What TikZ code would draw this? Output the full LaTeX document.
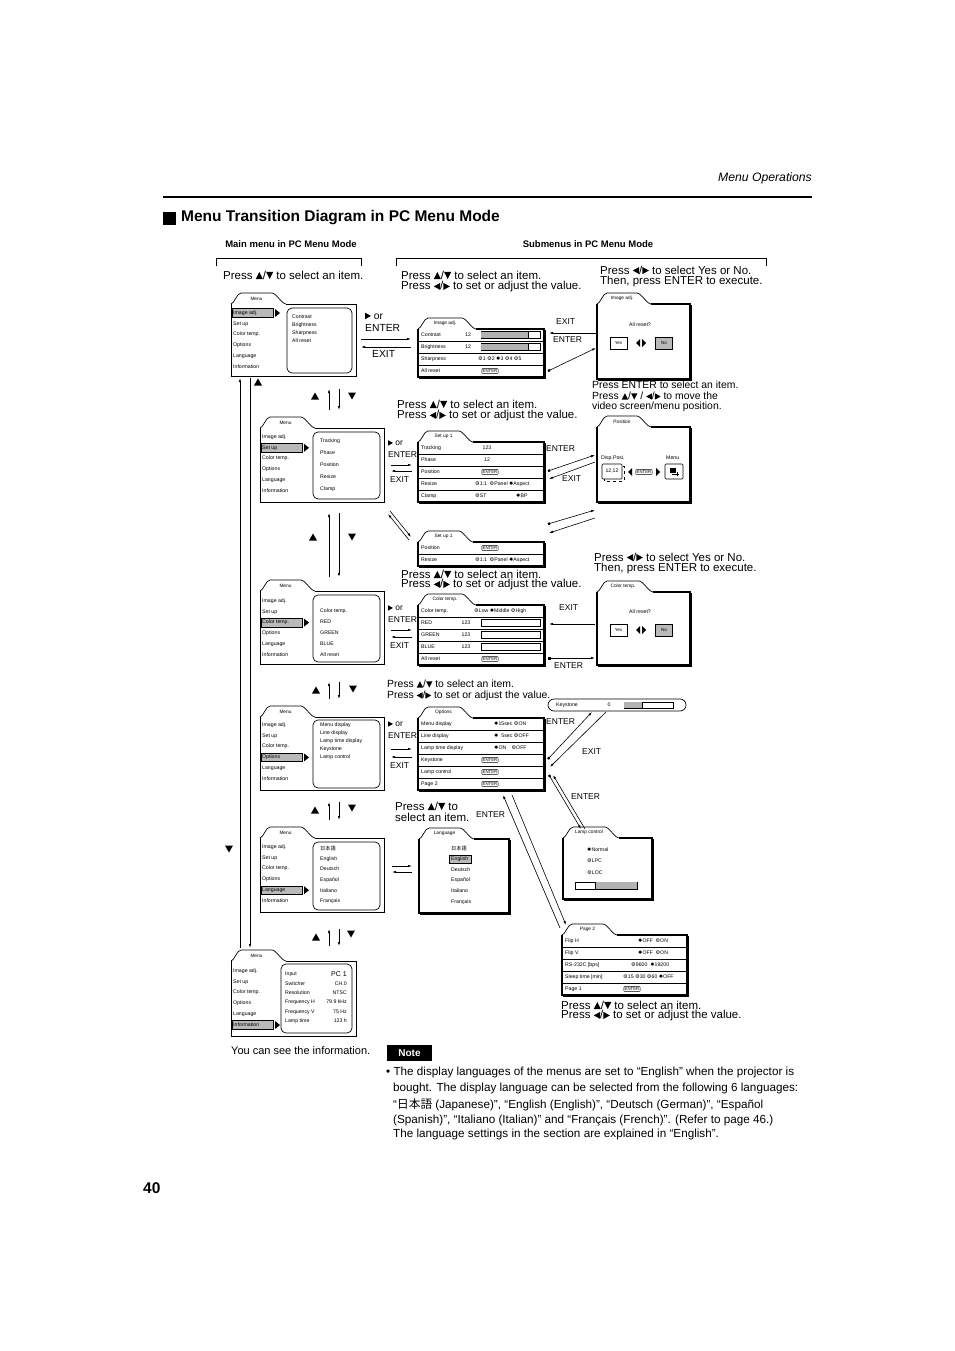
\documentclass[tikz,border=0pt]{standalone}
\usepackage{fontspec}
\setmainfont{Liberation Sans}
\newfontfamily\cjk{Noto Sans CJK JP}
\newfontfamily\djv{DejaVu Sans}
\usetikzlibrary{arrows.meta}
\newcommand\rOn{{\djv ✹}}
\newcommand\rOff{{\djv ⚙}}
\newcommand\tU{\tikz[baseline=0pt]\fill (0pt,0pt)--(0.62em,0pt)--(0.31em,0.62em)--cycle;}
\newcommand\tD{\tikz[baseline=0pt]\fill (0pt,0.62em)--(0.62em,0.62em)--(0.31em,0pt)--cycle;}
\newcommand\tL{\tikz[baseline=0pt]\fill (0.56em,0pt)--(0.56em,0.62em)--(0pt,0.31em)--cycle;}
\newcommand\tR{\tikz[baseline=0pt]\fill (0pt,0pt)--(0pt,0.62em)--(0.56em,0.31em)--cycle;}
\newcommand\upT[2]{\fill (#1-4,#2+3.5) -- (#1+4,#2+3.5) -- (#1,#2-3.5) -- cycle;}
\newcommand\dnT[2]{\fill (#1-4,#2-3.5) -- (#1+4,#2-3.5) -- (#1,#2+3.5) -- cycle;}
% main-menu window: name x0 y0 x1 y1 label tabwidth
\newcommand\win[7]{%
 \draw[frame] (#2+#7,#3) -- (#4,#3) -- (#4,#5) -- (#2,#5) -- (#2,#3);
 \draw[frame] (#2,#3) .. controls (#2+3,#3) and (#2+6,#3-11) .. (#2+10,#3-11) -- (#2+#7-14,#3-11) .. controls (#2+#7-10,#3-11) and (#2+#7-4,#3) .. (#2+#7,#3);
 \draw[shad] (#2+1,#5+0.8) -- (#4+0.8,#5+0.8) -- (#4+0.8,#3+1);
 \node[tabl] (#1) at (#2+#7/2-2,#3-5.5) {#6};
}
\newcommand\swin[7]{%
 \draw[sframe] (#2+#7,#3) -- (#4,#3) -- (#4,#5) -- (#2,#5) -- (#2,#3);
 \draw[frame] (#2,#3) .. controls (#2+3,#3) and (#2+6,#3-11) .. (#2+10,#3-11) -- (#2+#7-14,#3-11) .. controls (#2+#7-10,#3-11) and (#2+#7-4,#3) .. (#2+#7,#3);
 \draw[shad] (#2+1,#5+0.9) -- (#4+0.9,#5+0.9) -- (#4+0.9,#3+1);
 \node[tabl] (#1) at (#2+#7/2-2,#3-5.5) {#6};
}
% main menu list: prefix x yfirst selected
\newcommand\mlist[4]{%
 \foreach \t [count=\i] in {Image adj.,Set up,Color temp.,Options,Language,Information}{
   \ifnum\i=#4
     \draw[fill=gray!55, line width=0.5pt] (#2-1,#3+\i*10.8-10.8-4.3) rectangle (#2+40,#3+\i*10.8-10.8+4.3);
     \fill (#2+42,#3+\i*10.8-10.8-4) -- (#2+47,#3+\i*10.8-10.8) -- (#2+42,#3+\i*10.8-10.8+4) -- cycle;
   \fi
   \node[sm] (#1\i) at (#2,#3+\i*10.8-10.8) {\t};
 }
}
% row separators: x0 x1 ytop h n
\newcommand\rows[5]{\foreach \k in {1,...,#5}{\draw[rowl] (#1,#3+\k*#4) -- (#2,#3+\k*#4);}}
\newcommand\gbar[5]{\draw[line width=0.5pt] (#1,#2) rectangle (#3,#4); \fill[gray!60] (#1+0.3,#2+0.3) rectangle (#5,#4-0.3); \draw[line width=0.5pt] (#5,#2) -- (#5,#4);}
\tikzset{
 frame/.style={line width=0.7pt},
 sframe/.style={line width=1.1pt},
 shad/.style={line width=1.3pt},
 rowl/.style={line width=0.8pt},
 sm/.style={font=\fontsize{5.2}{6}\selectfont, inner sep=0pt, anchor=west},
 smc/.style={font=\fontsize{5.2}{6}\selectfont, inner sep=0pt},
 tabl/.style={font=\fontsize{4.8}{5}\selectfont, inner sep=0pt},
 ins/.style={font=\fontsize{11.5}{12}\selectfont, inner sep=0pt, anchor=west},
 inss/.style={font=\fontsize{10.4}{11}\selectfont, inner sep=0pt, anchor=west},
 lbl/.style={font=\fontsize{10.3}{11}\selectfont, inner sep=0pt, anchor=west},
 lbls/.style={font=\fontsize{8.5}{9}\selectfont, inner sep=0pt, anchor=west},
 ar/.style={line width=0.6pt, -{Latex[length=4pt,width=2.4pt]}},
 sqar/.style={line width=0.6pt, {Square[length=2.2pt,width=2.2pt]}-{Latex[length=4pt,width=2.4pt]}},
 entb/.style={draw, line width=0.4pt, rounded corners=0.6pt, inner xsep=0.8pt, inner ysep=0.9pt, font=\fontsize{4.3}{4.5}\selectfont},
 btn/.style={draw, line width=0.5pt, minimum width=17pt, minimum height=12pt, font=\fontsize{4.5}{5}\selectfont, inner sep=0pt},
 note/.style={font=\fontsize{11.7}{13}\selectfont, inner sep=0pt, anchor=west},
}
\begin{document}
\begin{tikzpicture}[x=1pt,y=-1pt]
\useasboundingbox (0,0) rectangle (954,1351);
\fill[white] (0,0) rectangle (954,1351);
% ---------- header
\node[anchor=east, inner sep=0pt, font=\fontsize{12.2}{13}\selectfont\itshape] (hdr) at (812,178) {Menu Operations};
\draw[line width=2.4pt] (163,197) -- (812,197);
\fill (163,211.5) rectangle (176,224.5);
\node[anchor=west, inner sep=0pt, font=\fontsize{15.5}{16}\selectfont\bfseries] (title) at (181,218) {Menu Transition Diagram in PC Menu Mode};
\node[inner sep=0pt, font=\fontsize{9.5}{10}\selectfont\bfseries] (hmain) at (291,244) {Main menu in PC Menu Mode};
\node[inner sep=0pt, font=\fontsize{9.5}{10}\selectfont\bfseries] (hsub) at (588,244) {Submenus in PC Menu Mode};
\draw[line width=0.8pt] (216,266) -- (216,258) -- (361,258) -- (361,266);
\draw[line width=0.8pt] (396,266) -- (396,258) -- (766,258) -- (766,266);
\node[ins] (i1) at (223,275) {Press \tU/\tD{} to select an item.};
\node[ins] (i2a) at (401,275) {Press \tU/\tD{} to select an item.};
\node[ins] (i2b) at (401,287) {Press \tL/\tR{} to set or adjust the value.};
\node[ins] (i3a) at (600,270) {Press \tL/\tR{} to select Yes or No.};
\node[ins] (i3b) at (600,282) {Then, press ENTER to execute.};
% ---------- main menu windows
\win{w1}{231}{304}{356}{376}{Menu}{55}
\mlist{w1i}{233}{313}{1}
\draw[frame, rounded corners=5pt] (287,308) rectangle (352,373);
\node[sm] (w1a) at (292,317) {Contrast};
\node[sm] (w1b) at (292,325) {Brightness};
\node[sm] (w1c) at (292,333) {Sharpness};
\node[sm] (w1d) at (292,341) {All reset};

\win{w2}{260}{428}{384}{502}{Menu}{55}
\mlist{w2i}{262}{437}{2}
\draw[frame, rounded corners=5pt] (313,432) rectangle (380,499);
\node[sm] (w2a) at (320,441) {Tracking};
\node[sm] (w2b) at (320,453) {Phase};
\node[sm] (w2c) at (320,465) {Position};
\node[sm] (w2d) at (320,477) {Resize};
\node[sm] (w2e) at (320,489) {Clamp};

\win{w3}{260}{591}{384}{664}{Menu}{55}
\mlist{w3i}{262}{601}{3}
\draw[frame, rounded corners=5pt] (313,595) rectangle (380,662);
\node[sm] (w3a) at (320,611) {Color temp.};
\node[sm] (w3b) at (320,622) {RED};
\node[sm] (w3c) at (320,633) {GREEN};
\node[sm] (w3d) at (320,644) {BLUE};
\node[sm] (w3e) at (320,655) {All reset};

\win{w4}{260}{717}{384}{790}{Menu}{55}
\mlist{w4i}{262}{725}{4}
\draw[frame, rounded corners=5pt] (313,720) rectangle (380,788);
\node[sm] (w4a) at (320,725) {Menu display};
\node[sm] (w4b) at (320,733) {Line display};
\node[sm] (w4c) at (320,741) {Lamp time display};
\node[sm] (w4d) at (320,749) {Keystone};
\node[sm] (w4e) at (320,757) {Lamp control};

\win{w5}{260}{838}{384}{912}{Menu}{55}
\mlist{w5i}{262}{847}{5}
\draw[frame, rounded corners=5pt] (313,842) rectangle (380,910);
\node[sm] (w5a) at (320,849) {\cjk 日本語};
\node[sm] (w5b) at (320,859) {English};
\node[sm] (w5c) at (320,869) {Deutsch};
\node[sm] (w5d) at (320,880) {Español};
\node[sm] (w5e) at (320,891) {Italiano};
\node[sm] (w5f) at (320,901) {Français};

\win{w6}{231}{961}{356}{1036}{Menu}{55}
\mlist{w6i}{233}{971}{6}
\draw[frame, rounded corners=5pt] (281,964) rectangle (352,1033);
\node[sm] (w6a) at (285,974) {Input};
\node[sm] (w6b) at (285,984) {Switcher};
\node[sm] (w6c) at (285,993) {Resolution};
\node[sm] (w6d) at (285,1002) {Frequency H};
\node[sm] (w6e) at (285,1012) {Frequency V};
\node[sm] (w6f) at (285,1021) {Lamp time};
\node[inner sep=0pt, anchor=east, font=\fontsize{7}{8}\selectfont] (w6av) at (347,974) {PC 1};
\node[sm, anchor=east] (w6bv) at (347,984) {CH.0};
\node[sm, anchor=east] (w6cv) at (347,993) {NTSC};
\node[sm, anchor=east] (w6dv) at (347,1002) {79.9 kHz};
\node[sm, anchor=east] (w6ev) at (347,1012) {75 Hz};
\node[sm, anchor=east] (w6fv) at (347,1021) {123 h};

% ---------- vertical navigation
\draw[ar] (240,948) -- (240,378);
\draw[ar] (250,378) -- (250,948);
\upT{258}{382}
\dnT{229}{849}
\upT{315}{396} \draw[ar] (329,410) -- (329,389); \draw[ar] (339,389) -- (339,410); \dnT{352}{396}
\upT{313}{537} \draw[ar] (329,577) -- (329,513); \draw[ar] (339,513) -- (339,577); \dnT{352}{537}
\upT{316}{690} \draw[ar] (329,699) -- (329,682); \draw[ar] (339,682) -- (339,699); \dnT{353}{689}
\upT{315}{810} \draw[ar] (329,820) -- (329,802); \draw[ar] (339,802) -- (339,820); \dnT{352}{808}
\upT{316}{937} \draw[ar] (329,946) -- (329,929); \draw[ar] (339,929) -- (339,946); \dnT{351}{934}

% ---------- Image adj.
\node[lbl] (l1a) at (365,316) {\tR{} or};
\node[lbl] (l1b) at (365,328) {ENTER};
\node[lbl] (l1c) at (372,354) {EXIT};
\draw[ar] (361,339) -- (411,339);
\draw[ar] (411,347) -- (361,347);
\swin{s1}{418}{329}{544}{377}{Image adj.}{58}
\rows{418}{544}{329}{12}{3}
\node[sm] (s1a) at (421,335) {Contrast};
\node[sm] (s1av) at (465,335) {12};
\gbar{481}{331.5}{540}{338.5}{528}
\node[sm] (s1b) at (421,347) {Brightness};
\node[sm] (s1bv) at (465,347) {12};
\gbar{481}{343.5}{540}{350.5}{528}
\node[sm] (s1c) at (421,359) {Sharpness};
\node[sm] (s1cv) at (478,359) {\rOff1 \rOff2 \rOn3 \rOff4 \rOff5};
\node[sm] (s1d) at (421,371) {All reset};
\node[entb] (s1e) at (490,371) {ENTER};

\swin{d1}{597}{304}{690}{379}{Image adj.}{54}
\node[smc] (d1q) at (640,325) {All reset?};
\node[btn] (d1y) at (618.5,343) {Yes};
\node[btn, fill=gray!55] (d1n) at (664,343) {No};
\fill (636,343) -- (640,339) -- (640,347) -- cycle;
\fill (642,339) -- (646,343) -- (642,347) -- cycle;
\node[lbls] (l2a) at (556,322) {EXIT};
\draw[ar] (597,333) -- (549,333);
\node[lbls] (l2b) at (553,340) {ENTER};
\draw[sqar] (548,371) -- (596,348);

% ---------- Set up
\node[inss] (i4a) at (592,385) {Press ENTER to select an item.};
\node[inss] (i4b) at (592,396) {Press \tU/\tD{} / \tL/\tR{} to move the};
\node[inss] (i4c) at (592,407) {video screen/menu position.};
\node[ins] (i5a) at (397,404) {Press \tU/\tD{} to select an item.};
\node[ins] (i5b) at (397,416) {Press \tL/\tR{} to set or adjust the value.};
\node[lbls] (l3a) at (388,443) {\tR{} or};
\node[lbls] (l3b) at (388,455) {ENTER};
\node[lbls] (l3c) at (390,480) {EXIT};
\draw[ar] (391,465) -- (412,465);
\draw[ar] (412,471) -- (391,471);
\swin{s2}{418}{442}{544}{502}{Set up 1}{55}
\rows{418}{544}{442}{12}{4}
\node[sm] (s2a) at (421,448) {Tracking};
\node[smc] (s2av) at (487,448) {123};
\node[sm] (s2b) at (421,460) {Phase};
\node[smc] (s2bv) at (487,460) {12};
\node[sm] (s2c) at (421,472) {Position};
\node[entb] (s2cv) at (490,472) {ENTER};
\node[sm] (s2d) at (421,484) {Resize};
\node[sm] (s2dv) at (475,484) {\rOff1:1\enspace\rOff Panel \rOn Aspect};
\node[sm] (s2e) at (421,496) {Clamp};
\node[sm] (s2ev) at (475,496) {\rOff ST};
\node[sm] (s2ew) at (516,496) {\rOn BP};

\swin{d2}{597}{427}{690}{502}{Position}{54}
\node[sm] (d2a) at (601,458) {Disp.Posi.};
\node[sm] (d2b) at (666,458) {Menu};
\draw[dashed, line width=0.4pt] (604,466) rectangle (624,481);
\draw[fill=white, line width=0.6pt, rounded corners=1pt] (602,464) rectangle (622,479);
\node[smc] (d2c) at (612,471.5) {12,12};
\fill (628,472) -- (632,468) -- (632,476) -- cycle;
\node[entb] (d2e) at (644,472) {ENTER};
\fill (656,468) -- (660,472) -- (656,476) -- cycle;
\draw[line width=0.6pt, rounded corners=1pt] (665,464) rectangle (683,479);
\fill (670,467.5) rectangle (676,472.5);
\draw[line width=0.4pt] (672,474) -- (679,474) (677,472) -- (677,476);
\node[lbls] (l4a) at (546,449) {ENTER};
\draw[sqar] (548,471) -- (595,455);
\draw[ar] (595,462) -- (549,479);
\node[lbls] (l4b) at (562,479) {EXIT};

\draw[ar] (390,511) -- (411,537);
\draw[ar] (409,540) -- (388,514);
\swin{s3}{418}{542}{544}{566}{Set up 1}{55}
\rows{418}{544}{542}{12}{1}
\node[sm] (s3a) at (421,548) {Position};
\node[entb] (s3av) at (490,548) {ENTER};
\node[sm] (s3b) at (421,560) {Resize};
\node[sm] (s3bv) at (475,560) {\rOff1:1\enspace\rOff Panel \rOn Aspect};
\draw[sqar] (548,524) -- (595,510);
\draw[ar] (595,518) -- (549,533);

% ---------- Color temp.
\node[ins] (i6a) at (594,557) {Press \tL/\tR{} to select Yes or No.};
\node[ins] (i6b) at (594,569) {Then, press ENTER to execute.};
\node[ins] (i7a) at (401,574) {Press \tU/\tD{} to select an item.};
\node[ins] (i7b) at (401,585) {Press \tL/\tR{} to set or adjust the value.};
\node[lbls] (l5a) at (388,608) {\tR{} or};
\node[lbls] (l5b) at (388,620) {ENTER};
\node[lbls] (l5c) at (390,646) {EXIT};
\draw[ar] (391,630) -- (412,630);
\draw[ar] (412,637) -- (391,637);
\swin{s4}{418}{605}{544}{665}{Color temp.}{58}
\rows{418}{544}{605}{12}{4}
\node[sm] (s4a) at (421,611) {Color temp.};
\node[sm] (s4av) at (474,611) {\rOff Low \rOn Middle \rOff High};
\node[sm] (s4b) at (421,623) {RED};
\node[smc] (s4bv) at (466,623) {123};
\draw[line width=0.5pt] (481,619.5) rectangle (540,626.5);
\node[sm] (s4c) at (421,635) {GREEN};
\node[smc] (s4cv) at (466,635) {123};
\draw[line width=0.5pt] (481,631.5) rectangle (540,638.5);
\node[sm] (s4d) at (421,647) {BLUE};
\node[smc] (s4dv) at (466,647) {123};
\draw[line width=0.5pt] (481,643.5) rectangle (540,650.5);
\node[sm] (s4e) at (421,659) {All reset};
\node[entb] (s4ev) at (490,659) {ENTER};

\swin{d3}{597}{592}{690}{665}{Color temp.}{56}
\node[smc] (d3q) at (640,612) {All reset?};
\node[btn] (d3y) at (618.5,630) {Yes};
\node[btn, fill=gray!55] (d3n) at (664,630) {No};
\fill (636,630) -- (640,626) -- (640,634) -- cycle;
\fill (642,626) -- (646,630) -- (642,634) -- cycle;
\node[lbls] (l6a) at (559,608) {EXIT};
\draw[ar] (595,624) -- (549,624);
\node[lbls] (l6b) at (554,666) {ENTER};
\draw[sqar] (548,658) -- (595,658);

% ---------- Options
\node[inss] (i8a) at (387,684) {Press \tU/\tD{} to select an item.};
\node[inss] (i8b) at (387,696) {Press \tL/\tR{} to set or adjust the value.};
\node[lbls] (l7a) at (388,724) {\tR{} or};
\node[lbls] (l7b) at (388,736) {ENTER};
\node[lbls] (l7c) at (390,766) {EXIT};
\draw[ar] (391,749) -- (412,749);
\draw[ar] (412,757) -- (391,757);
\swin{s5}{418}{718}{544}{790}{Options}{55}
\rows{418}{544}{718}{12}{5}
\node[sm] (s5a) at (421,724) {Menu display};
\node[sm] (s5av) at (494,724) {\rOn15sec \rOff ON};
\node[sm] (s5b) at (421,736) {Line display};
\node[sm] (s5bv) at (494,736) {\rOn{} \ 5sec \rOff OFF};
\node[sm] (s5c) at (421,748) {Lamp time display};
\node[sm] (s5cv) at (494,748) {\rOn ON\quad\rOff OFF};
\node[sm] (s5d) at (421,760) {Keystone};
\node[entb] (s5dv) at (490,760) {ENTER};
\node[sm] (s5e) at (421,772) {Lamp control};
\node[entb] (s5ev) at (490,772) {ENTER};
\node[sm] (s5f) at (421,784) {Page 2};
\node[entb] (s5fv) at (490,784) {ENTER};

\draw[line width=0.7pt, rounded corners=6pt] (548,699) rectangle (686,711);
\node[sm] (ks) at (556,705) {Keystone};
\node[smc] (ksv) at (609,705) {0};
\gbar{624}{702}{673}{708}{642}
\node[lbls] (l8a) at (546,722) {ENTER};
\draw[sqar] (548,759) -- (592,712);
\draw[ar] (606,712) -- (550,767);
\node[lbls] (l8b) at (582,752) {EXIT};
\node[lbls] (l8c) at (571,797) {ENTER};
\draw[sqar] (549,775) -- (581,829);
\draw[ar] (585,829) -- (553,775);

% ---------- Language
\node[ins] (i9a) at (395,806) {Press \tU/\tD{} to};
\node[ins] (i9b) at (395,817) {select an item.};
\node[lbls] (l9a) at (476,815) {ENTER};
\draw[ar] (392,866) -- (412,866);
\draw[ar] (412,872) -- (392,872);
\swin{s6}{419}{839}{509}{913}{Language}{55}
\node[sm] (s6a) at (451,849) {\cjk 日本語};
\draw[fill=gray!55, line width=0.5pt] (449,855) rectangle (471,863.5);
\node[sm] (s6b) at (451,859) {English};
\node[sm] (s6c) at (451,870) {Deutsch};
\node[sm] (s6d) at (451,880) {Español};
\node[sm] (s6e) at (451,891) {Italiano};
\node[sm] (s6f) at (451,902) {Français};

\draw[ar] (560,928) -- (503,795);
\draw[ar] (512,795) -- (566,925);

% ---------- Lamp control
\swin{lc}{563}{838}{652}{899}{Lamp control}{56}
\node[sm] (lca) at (587,850) {\rOn Normal};
\node[sm] (lcb) at (587,861) {\rOff LPC};
\node[sm] (lcc) at (587,873) {\rOff LOC};
\draw[line width=0.5pt] (575,882) rectangle (637,889);
\fill[gray!60] (595,882.3) rectangle (636.7,888.7);
\draw[line width=0.5pt] (595,882) -- (595,889);

% ---------- Page 2
\swin{p2}{562}{935}{687}{995}{Page 2}{55}
\rows{562}{687}{935}{12}{4}
\node[sm] (p2a) at (565,941) {Flip H};
\node[sm] (p2av) at (638,941) {\rOn OFF\enspace\rOff ON};
\node[sm] (p2b) at (565,953) {Flip V};
\node[sm] (p2bv) at (638,953) {\rOn OFF\enspace\rOff ON};
\node[sm] (p2c) at (565,965) {RS-232C [bps]};
\node[sm] (p2cv) at (631,965) {\rOff 9600 \ \rOn 19200};
\node[sm] (p2d) at (565,977) {Sleep time [min]};
\node[sm] (p2dv) at (623,977) {\rOff 15 \rOff 30 \rOff 60 \rOn OFF};
\node[sm] (p2e) at (565,989) {Page 1};
\node[entb] (p2ev) at (632,989) {ENTER};
\node[ins] (i10a) at (561,1005) {Press \tU/\tD{} to select an item.};
\node[ins] (i10b) at (561,1016) {Press \tL/\tR{} to set or adjust the value.};

\node[font=\fontsize{11}{12}\selectfont, inner sep=0pt, anchor=west] (info) at (231,1051) {You can see the information.};

% ---------- note
\node[fill=black, text=white, font=\fontsize{10}{11}\selectfont\bfseries, minimum width=45pt, minimum height=16pt, inner sep=0pt] (notebox) at (409.5,1053) {Note};
\node[note] (n1) at (386,1072) {• The display languages of the menus are set to “English” when the projector is};
\node[note] (n2) at (393,1088) {bought. The display language can be selected from the following 6 languages:};
\node[note] (n3) at (393,1105) {“{\cjk 日本語} (Japanese)”, “English (English)”, “Deutsch (German)”, “Español};
\node[note] (n4) at (393,1120) {(Spanish)”, “Italiano (Italian)” and “Français (French)”. (Refer to page 46.)};
\node[note] (n5) at (393,1134) {The language settings in the section are explained in “English”.};
\node[anchor=west, inner sep=0pt, font=\fontsize{15.5}{16}\selectfont\bfseries] (pg) at (143,1188) {40};
\end{tikzpicture}
\end{document}
